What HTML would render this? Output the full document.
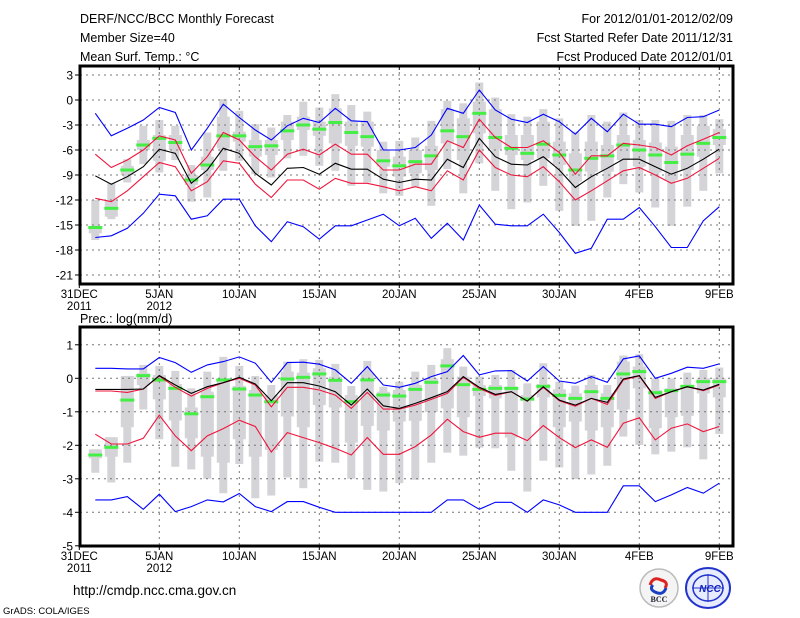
<!DOCTYPE html>
<html><head><meta charset="utf-8"><style>
html,body{margin:0;padding:0;background:#fff;}
svg{display:block;font-family:"Liberation Sans",sans-serif;}
</style></head><body>
<svg id="s" width="800" height="618" viewBox="0 0 800 618" xmlns="http://www.w3.org/2000/svg">
<rect width="800" height="618" fill="#fff"/>
<g font-size="12.5" fill="#000">
<text x="80" y="23">DERF/NCC/BCC Monthly Forecast</text>
<text x="80" y="42">Member Size=40</text>
<text x="80" y="61">Mean Surf. Temp.: °C</text>
<text x="733" y="23" text-anchor="end">For 2012/01/01-2012/02/09</text>
<text x="733" y="42" text-anchor="end">Fcst Started Refer Date 2011/12/31</text>
<text x="733" y="61" text-anchor="end">Fcst Produced Date 2012/01/01</text>
<text x="80" y="323">Prec.: log(mm/d)</text>
<text x="73" y="595" font-size="13.5">http://cmdp.ncc.cma.gov.cn</text>
<text x="3" y="614" font-size="9.5">GrADS: COLA/IGES</text>
</g>
<g id="logos">
<circle cx="659" cy="588" r="19" fill="#f4f4f4" stroke="#bbb" stroke-width="1.5"/>
<path d="M650 585 q3 -9 11 -5 q8 2 4 8" fill="none" stroke="#d22" stroke-width="3"/>
<path d="M666 588 q-3 8 -11 4 q-6 -3 -2 -7" fill="none" stroke="#1a3fc0" stroke-width="3"/>
<text x="659" y="602" font-size="8" font-family="Liberation Serif,serif" text-anchor="middle" font-weight="bold" fill="#223">BCC</text>
<ellipse cx="708" cy="588" rx="22" ry="20" fill="#e8ecff" stroke="#2233cc" stroke-width="2"/>
<ellipse cx="708" cy="588" rx="15" ry="13" fill="none" stroke="#2233cc" stroke-width="1.5"/>
<path d="M692 588 h32 M708 574 v28" stroke="#2233cc" stroke-width="1"/>
<text x="710" y="592" font-size="10" font-style="italic" font-weight="bold" text-anchor="middle" fill="#1122bb">NCC</text>
</g>
</svg>
<script>
const NS="http://www.w3.org/2000/svg";
const svg=document.getElementById('s');
function el(t,a,p){const e=document.createElementNS(NS,t);for(const k in a)e.setAttribute(k,a[k]);(p||svg).appendChild(e);return e;}
function X(d){return 79.3+16*d;}
const T={ub:[-1.6,-4.3,-3.4,-2.4,-0.9,-1.5,-6,-3.4,-0.5,-2.1,-3.6,-4.8,-3.1,-2.2,-2.7,-1,-2.5,-2.6,-6,-6,-5.7,-4.2,-1,-1.6,1.2,-1.2,-2.3,-2.7,-1.7,-2.6,-4.1,-2.2,-3.8,-1.7,-2.9,-2.9,-3.2,-2.1,-2,-1.2],
ur:[-6.5,-8.1,-7.2,-6,-4.3,-4.8,-8.8,-6.8,-3.9,-4.8,-6.8,-8.4,-6.5,-5.9,-6.6,-5.3,-6.5,-6.5,-8.4,-8.4,-7.7,-7.7,-4.9,-5.7,-2.3,-4.5,-5.7,-5.7,-4.9,-6.3,-8.9,-6.7,-6.7,-5.2,-5.4,-5.7,-6.6,-5.5,-4.7,-3.9],
bk:[-9.1,-10.1,-9.2,-8,-5.9,-6.4,-10,-8.4,-5.8,-6.4,-8.8,-10.2,-8.2,-8.1,-8.9,-7.6,-8.3,-8.3,-9.5,-9.9,-9.5,-9.6,-7.1,-8.1,-4.6,-6.8,-7.7,-7.8,-6.8,-8.4,-10.5,-9.2,-8.2,-7.1,-7.1,-8,-8.9,-8.2,-7.1,-5.9],
lr:[-11.8,-12.2,-10.9,-9.2,-7.5,-8,-10.9,-9.8,-7.3,-7.6,-10.1,-11.7,-9.6,-9.6,-10.7,-9.4,-10,-10,-10.4,-10.9,-10.4,-10.9,-8.5,-9.6,-6,-8.1,-9,-9.2,-8,-9.8,-12,-10.9,-9.7,-8.5,-8.1,-9,-10,-9.4,-8.2,-7],
lb:[-16.5,-16.3,-15.4,-13.6,-11.3,-11.5,-14.3,-13.9,-11.9,-11.9,-15.1,-17,-14.6,-15.2,-16.7,-15.1,-15.1,-14.4,-13.7,-15.1,-14.2,-16.6,-14.8,-16.8,-12.6,-14.9,-15.1,-15.1,-13.7,-15.9,-18.4,-17.8,-14.3,-14.3,-12.9,-15.2,-17.7,-17.7,-14.5,-12.8],
g:[-15.3,-13,-8.4,-5.4,-4.6,-5.1,-9.6,-7.8,-4.3,-4.3,-5.6,-5.5,-3.7,-3,-3.5,-2.7,-3.9,-4.4,-7.3,-7.9,-7.4,-6.7,-3.7,-4.4,-1.6,-4.5,-5.8,-6.4,-5.3,-6.6,-8.4,-7,-6.7,-5.4,-6,-6.6,-7.5,-6.5,-5.2,-4.5],
bar:[[-12,-16.8],[-10,-14.3],[-7.1,-9.9],[-3.1,-7.7],[-2.4,-8.7],[-3.1,-7.2],[-7.8,-12.2],[-3.9,-11.7],[0.1,-8.5],[-1.3,-7.3],[-2.9,-8.9],[-3.3,-9.3],[-1.8,-7],[-0.2,-6.7],[-0.9,-7.9],[0.7,-8.5],[-0.6,-10.3],[-1.4,-9.9],[-5,-11.2],[-4.9,-11.5],[-4.5,-10.5],[-2.5,-12.7],[-0.1,-8.3],[-0.4,-11.2],[2.1,-7.6],[0.3,-10.9],[-1.7,-13.1],[-2,-12.3],[-1.1,-10.3],[-2.2,-13.3],[-3.8,-15.1],[-1.8,-14.5],[-2.6,-11.7],[-1.5,-10.1],[-2.4,-11.1],[-2.4,-12.9],[-2.5,-15.1],[-1.8,-12.8],[-1.8,-10.9],[-2.3,-8.8]],
box:[[-15.2,-16],[-12,-14],[-7.9,-9],[-4.8,-6],[-4.2,-7.3],[-4.2,-6],[-9,-10.2],[-6.8,-8.4],[-2,-5.8],[-3.8,-5],[-4.8,-6.8],[-4.8,-6.6],[-2.6,-4.8],[-2,-3.6],[-2.6,-4.3],[-1,-5.2],[-2.6,-5.5],[-2.6,-5.6],[-6,-8],[-6.8,-9.2],[-6,-8.8],[-5.5,-8.4],[-1.1,-5.2],[-2.2,-7.2],[-0.2,-4],[-1.1,-5.9],[-4.2,-6.6],[-4.2,-7.2],[-2.6,-7],[-5,-7.8],[-6.4,-9.8],[-5,-8.6],[-5.4,-8.6],[-4.2,-7.2],[-4.8,-8],[-5.1,-8.7],[-5.6,-9.6],[-4.2,-8.4],[-3.1,-6.8],[-3.5,-5.4]]};
const B={ub:[0.3,0.3,0.28,0.28,0.62,0.47,0.18,0.4,0.5,0.64,0.45,-0.12,0.47,0.48,0.42,0.25,-0.15,0.35,-0.2,-0.27,-0.15,0.05,0.2,0.68,0.1,0.22,0.23,-0.08,0.35,-0.08,-0.15,0.05,-0.12,0.58,0.67,0,0.15,0.33,0.3,0.43],
bk:[-0.33,-0.33,-0.33,-0.32,0.08,-0.2,-0.45,-0.25,-0.13,0.03,-0.17,-0.67,-0.13,-0.13,-0.23,-0.4,-0.8,-0.32,-0.82,-0.9,-0.75,-0.58,-0.4,0.05,-0.27,-0.48,-0.4,-0.68,-0.25,-0.65,-0.8,-0.6,-0.72,-0.02,0.08,-0.57,-0.4,-0.25,-0.35,-0.18],
ur:[-0.38,-0.38,-0.42,-0.32,0.07,-0.27,-0.53,-0.3,-0.13,0,-0.2,-0.85,-0.27,-0.27,-0.35,-0.5,-0.9,-0.42,-0.92,-0.92,-0.8,-0.63,-0.45,0.03,-0.3,-0.51,-0.4,-0.68,-0.27,-0.67,-0.83,-0.6,-0.78,-0.05,0.07,-0.6,-0.4,-0.25,-0.37,-0.2],
lr:[-1.67,-1.96,-1.96,-1.79,-1.1,-1.72,-2.16,-1.72,-1.5,-1.25,-1.44,-2.2,-1.62,-1.77,-1.92,-2.09,-2.29,-1.77,-2.27,-2.27,-2.04,-1.69,-1.22,-1.59,-1.76,-1.64,-1.64,-1.86,-1.41,-1.77,-2.07,-1.84,-2.06,-1.34,-1.18,-1.84,-1.49,-1.36,-1.59,-1.44],
lb:[-3.63,-3.63,-3.53,-3.91,-3.46,-3.98,-3.83,-3.63,-3.69,-3.44,-3.83,-3.98,-3.68,-3.68,-3.85,-4,-4,-4,-4,-4,-4,-4,-3.63,-3.63,-3.91,-3.7,-3.7,-4,-3.63,-3.78,-4,-4,-4,-3.21,-3.21,-3.68,-3.48,-3.26,-3.43,-3.13],
g:[-2.29,-2.06,-0.65,0.08,-0.05,-0.3,-1.06,-0.55,-0.05,-0.32,-0.5,-0.7,-0.02,0.03,0.13,-0.06,-0.7,-0.05,-0.5,-0.53,-0.33,-0.12,0.37,-0.19,-0.33,-0.3,-0.3,-0.62,-0.24,-0.51,-0.6,-0.4,-0.6,0.13,0.2,-0.43,-0.37,-0.24,-0.1,-0.1],
bar:[[-2.12,-2.82],[-1.76,-3.11],[0.07,-2.52],[0.4,-0.93],[0.37,-1.82],[0.22,-2.64],[-0.3,-2.72],[0.2,-3],[0.64,-3.43],[0.37,-2.56],[0.07,-3.58],[-0.2,-3.5],[0.5,-2.96],[0.57,-3.28],[0.55,-2.49],[0.43,-2.52],[-0.23,-3],[0.52,-3.33],[-0.25,-3.38],[-0.1,-3.13],[0.2,-3.03],[0.4,-2.52],[0.9,-2.22],[0.35,-2.31],[0.05,-2.07],[0.1,-2.09],[0.25,-2.76],[-0.15,-3.38],[0.45,-2.46],[-0.1,-2.66],[-0.22,-3.01],[0.1,-2.87],[-0.2,-2.61],[0.68,-1.74],[0.72,-1.99],[0,-2.27],[0,-2.19],[0.17,-2.06],[0.25,-2.42],[0.32,-1.66]],
box:[[-2.12,-2.39],[-1.76,-2.34],[0.07,-1.46],[0.15,-0.2],[0.1,-0.63],[-0.17,-1.26],[-0.87,-1.79],[-0.4,-2.34],[-0.05,-2.52],[-0.23,-1.82],[-0.35,-2.34],[-0.5,-2.14],[0.2,-1.14],[0.17,-1.46],[0.3,-0.8],[0.05,-0.87],[-0.5,-1.92],[0.15,-1.42],[-0.4,-1.56],[-0.35,-1.29],[-0.2,-1.27],[0,-1.01],[0.57,-0.9],[0.05,-1.16],[-0.2,-0.53],[-0.2,-0.6],[-0.25,-1.77],[-0.5,-0.67],[-0.17,-0.57],[-0.33,-1.46],[-0.45,-1.29],[-0.2,-1.56],[-0.45,-1.46],[0.5,-0.93],[0.35,-0.3],[-0.35,-1.49],[-0.3,-1.16],[-0.2,-1.12],[0,-0.45],[0,-0.57]]};
function panel(D,Y,top,bot,ticks){
  const L=80,R=733;
  for(let i=0;i<40;i++){const x=X(i+1);
    const b=D.bar[i];el('rect',{x:x-4,y:Y(b[0]),width:8,height:Y(b[1])-Y(b[0]),fill:'#d4d4d8'});
    const c=D.box[i];el('rect',{x:x-6.5,y:Y(c[0]),width:13,height:Math.max(1,Y(c[1])-Y(c[0])),fill:'#d4d4d8'});}
  for(let d=0;d<=40;d+=5)el('line',{x1:X(d),x2:X(d),y1:top,y2:bot,stroke:'#777','stroke-dasharray':'2,4','stroke-width':1});
  ticks.forEach(v=>{const y=Y(v);el('line',{x1:L,x2:R,y1:y,y2:y,stroke:'#777','stroke-dasharray':'2,4','stroke-width':1});
    el('line',{x1:L-5,x2:L,y1:y,y2:y,stroke:'#000'});
    const t=el('text',{x:L-7,y:y+4.5,'font-size':12,'text-anchor':'end'});t.textContent=v;});
  for(let i=0;i<40;i++){const x=X(i+1);el('rect',{x:x-7,y:Y(D.g[i])-1.5,width:14,height:3,fill:'#44ee44'});}
  const line=(a,c)=>el('polyline',{points:a.map((v,i)=>X(i+1)+','+Y(v).toFixed(1)).join(' '),fill:'none',stroke:c,'stroke-width':1.1});
  line(D.ub,'#0000ff');line(D.lb,'#0000ff');line(D.lr,'#f0143c');line(D.ur,'#f0143c');line(D.bk,'#000');
  el('rect',{x:L,y:top,width:R-L,height:bot-top,fill:'none',stroke:'#000','stroke-width':3});
  const labs=['31DEC','5JAN','10JAN','15JAN','20JAN','25JAN','30JAN','4FEB','9FEB'];
  labs.forEach((s,k)=>{const x=X(k*5);el('line',{x1:x,x2:x,y1:bot,y2:bot+4,stroke:'#000'});el('line',{x1:x,x2:x,y1:top,y2:top+4,stroke:'#000'});
    const t=el('text',{x:x,y:bot+14,'font-size':11.5,'text-anchor':'middle'});t.textContent=s;});
  let t=el('text',{x:X(0),y:bot+26,'font-size':11.5,'text-anchor':'middle'});t.textContent='2011';
  t=el('text',{x:X(5),y:bot+26,'font-size':11.5,'text-anchor':'middle'});t.textContent='2012';
}
panel(T,v=>100-v*8.333,66,284,[3,0,-3,-6,-9,-12,-15,-18,-21]);
panel(B,v=>378.3-v*33.5,327,546,[1,0,-1,-2,-3,-4,-5]);
</script>
</body></html>
